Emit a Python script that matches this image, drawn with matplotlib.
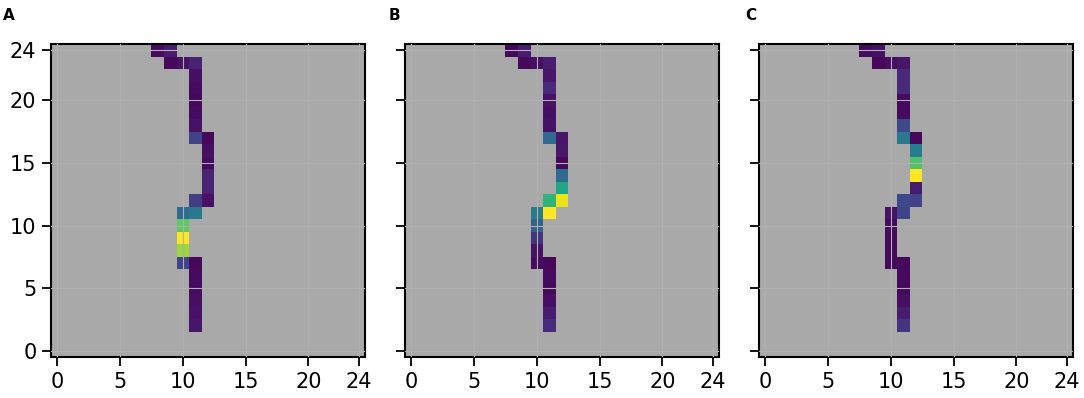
import numpy as np
import matplotlib
matplotlib.use("Agg")
import matplotlib.pyplot as plt

# Path cells (shared by all panels)
path_x = [8, 9, 9, 10, 11, 11, 11, 11, 11, 11, 11, 12, 12, 12, 12, 12, 12, 11, 11, 10,
          10, 10, 10, 10, 11, 11, 11, 11, 11, 11]
path_y = [24, 24, 23, 23, 23, 22, 21, 20, 19, 18, 17, 17, 16, 15, 14, 13, 12, 12, 11, 11,
          10, 9, 8, 7, 7, 6, 5, 4, 3, 2]

# Normalised cell values along the path for each panel
values_a = [0.03, 0.08, 0.02, 0.05, 0.10, 0.04, 0.03, 0.02, 0.03, 0.05, 0.20, 0.02, 0.04, 0.03,
            0.10, 0.10, 0.05, 0.18, 0.40, 0.35, 0.75, 1.00, 0.85, 0.20, 0.02, 0.03, 0.03, 0.04,
            0.05, 0.06]
values_b = [0.02, 0.08, 0.02, 0.04, 0.08, 0.06, 0.12, 0.05, 0.04, 0.05, 0.35, 0.06, 0.07, 0.02,
            0.35, 0.60, 0.97, 0.65, 1.00, 0.42, 0.32, 0.15, 0.05, 0.03, 0.02, 0.03, 0.02, 0.04,
            0.08, 0.12]
values_c = [0.03, 0.05, 0.02, 0.04, 0.06, 0.12, 0.12, 0.03, 0.03, 0.22, 0.40, 0.02, 0.42, 0.72,
            1.00, 0.08, 0.20, 0.22, 0.20, 0.05, 0.03, 0.02, 0.02, 0.02, 0.02, 0.03, 0.02, 0.04,
            0.08, 0.15]

panel_labels = ["A", "B", "C"]
ticks = [0, 5, 10, 15, 20, 24]
grid_size = 25

W, H = 1084, 398
fig = plt.figure(figsize=(W / 100, H / 100), dpi=100)

cmap = plt.get_cmap("viridis").copy()
cmap.set_bad("#a9a9a9")

lefts = [51, 405, 759]
label_x = [3, 389, 745]
for i, (vals, lab) in enumerate(zip([values_a, values_b, values_c], panel_labels)):
    ax = fig.add_axes([lefts[i] / W, 41 / H, 314 / W, 313 / H])
    grid = np.full((grid_size, grid_size), np.nan)
    for x, y, v in zip(path_x, path_y, vals):
        grid[y, x] = v
    ax.imshow(np.ma.masked_invalid(grid), origin="lower", cmap=cmap, vmin=0, vmax=1,
              interpolation="nearest", aspect="auto", zorder=0)
    ax.set_xlim(-0.5, 24.5)
    ax.set_ylim(-0.5, 24.5)
    ax.set_facecolor("#a9a9a9")
    ax.set_xticks(ticks)
    ax.set_yticks(ticks)
    ax.grid(True, color="#b0b0b0", linewidth=0.8)
    ax.set_axisbelow(False)
    for s in ax.spines.values():
        s.set_linewidth(1.5)
        s.set_color("black")
    ax.tick_params(labelsize=15, length=6.5, width=1.3, pad=4)
    if i > 0:
        ax.set_yticklabels([])
    fig.text(label_x[i] / W, 1 - 20 / H, lab, fontsize=11, fontweight="bold",
             ha="left", va="baseline")

fig.savefig("out.png", dpi=100)
